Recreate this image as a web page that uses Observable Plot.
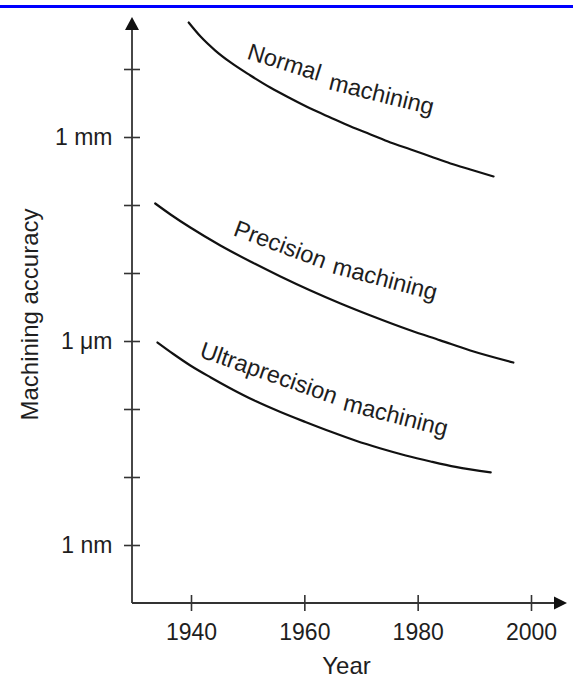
<!DOCTYPE html>
<html>
<head>
<meta charset="utf-8">
<script src="https://cdn.jsdelivr.net/npm/d3@7"></script>
<script src="https://cdn.jsdelivr.net/npm/@observablehq/plot@0.6"></script>
<style>
  html, body { margin: 0; padding: 0; background: #fff; }
  #wrap { position: relative; width: 573px; height: 686px; overflow: hidden; }
  #topRule { position: absolute; left: 0; top: 5px; width: 573px; height: 3px; background: #0000ff; }
  #chart { position: absolute; left: 0; top: 0; }
</style>
</head>
<body>
<div id="wrap"><div id="chart"></div><div id="topRule"></div></div>
<script>
// ---- Data (accuracy in micrometres) ----
const normalYears = [1939.5, 1941.6, 1944.2, 1946.9, 1950.4, 1953.9, 1957.5, 1961.0, 1964.5, 1968.1, 1971.6, 1975.1, 1978.7, 1982.2, 1985.7, 1989.2, 1993.3];
const normalAccuracy = [49100, 30500, 19000, 12700, 8170, 5430, 3750, 2670, 1970, 1450, 1110, 843, 667, 526, 415, 338, 267];

const precisionYears = [1933.6, 1936.3, 1939.8, 1945.1, 1950.4, 1955.7, 1961.0, 1966.3, 1971.6, 1978.7, 1983.9, 1989.2, 1996.8];
const precisionAccuracy = [107, 73.8, 47.4, 25.8, 15.0, 9.04, 5.62, 3.62, 2.41, 1.45, 1.04, 0.738, 0.491];

const ultraYears = [1934.0, 1936.8, 1939.8, 1943.4, 1946.9, 1951.3, 1955.7, 1960.1, 1964.5, 1968.9, 1973.4, 1977.8, 1982.2, 1986.6, 1992.8];
const ultraAccuracy = [0.966, 0.655, 0.444, 0.296, 0.204, 0.133, 0.0918, 0.0655, 0.0474, 0.0350, 0.0267, 0.0211, 0.0172, 0.0143, 0.0119];

const labelTexts = ["Normal", "machining", "Precision", "machining", "Ultraprecision", "machining"];
const labelYears = [1956.0, 1973.2, 1955.2, 1973.8, 1953.2, 1975.7];
const labelAccuracy = [9900, 3330, 20.8, 6.4, 0.267, 0.063];
const labelAngles = [17.5, 14, 20.4, 14.8, 19.3, 14.4];

const xTicks = [1940, 1960, 1980, 2000];
const yTicks = [0.001, 0.01, 0.1, 1, 10, 100, 1000, 10000];
const yLabelTicks = [0.001, 1, 1000];
const yLabelTexts = ["1 nm", "1 \u03bcm", "1 mm"];
const xTitle = "Year";
const yTitle = "Machining accuracy";

// ---- Build tables ----
const series = [
  {name: "Normal machining", years: normalYears, acc: normalAccuracy},
  {name: "Precision machining", years: precisionYears, acc: precisionAccuracy},
  {name: "Ultraprecision machining", years: ultraYears, acc: ultraAccuracy}
];
const lineData = series.flatMap(s => s.years.map((y, i) => ({series: s.name, year: y, acc: s.acc[i]})));
const labelData = labelTexts.map((t, i) => ({text: t, year: labelYears[i], acc: labelAccuracy[i], angle: labelAngles[i]}));
const yLabelMap = new Map(yLabelTicks.map((v, i) => [v, yLabelTexts[i]]));

// ---- Layout ----
const W = 573, H = 686;
const ML = 132, MR = 6, MT = 17, MB = 83;
const FONT = "'Liberation Sans', Arial, Helvetica, sans-serif";
const INK = "#1e1e1e";

const plot = Plot.plot({
  width: W,
  height: H,
  marginLeft: ML,
  marginRight: MR,
  marginTop: MT,
  marginBottom: MB,
  style: {background: "transparent", fontFamily: FONT, color: INK, overflow: "visible"},
  x: {domain: [1940, 2000], range: [191, 531]},
  y: {type: "log", domain: [0.001, 1000], range: [545, 137]},
  marks: [
    Plot.axisX({ticks: xTicks, tickSize: 16, dy: -8, tickFormat: () => "", label: null, strokeWidth: 1.6, stroke: "#333"}),
    Plot.axisX({ticks: xTicks, tickSize: 0, tickPadding: 20, fontSize: 23, label: null, tickFormat: d => String(d)}),
    Plot.axisY({ticks: yTicks, tickSize: 16, dx: 8, tickFormat: () => "", label: null, strokeWidth: 1.6, stroke: "#333"}),
    Plot.axisY({ticks: yLabelTicks, tickSize: 0, tickPadding: 20, fontSize: 23, label: null, tickFormat: d => yLabelMap.get(d)}),
    Plot.line(lineData, {x: "year", y: "acc", z: "series", curve: "monotone-x", stroke: "#111", strokeWidth: 2.2}),
    Plot.text(labelData, {x: "year", y: "acc", text: "text", rotate: "angle", lineAnchor: "bottom", textAnchor: "middle", fontSize: 23.5, fill: INK}),
    Plot.text([xTitle], {frameAnchor: "bottom", text: d => d, textAnchor: "middle", lineAnchor: "bottom", dx: -3.5, dy: 70, fontSize: 24, fill: INK}),
    Plot.text([yTitle], {frameAnchor: "left", text: d => d, rotate: -90, textAnchor: "middle", lineAnchor: "bottom", dx: -95, dy: 4, fontSize: 24, fill: INK})
  ]
});

// ---- Axis lines with arrowheads (drawn along the frame edges) ----
const svg = d3.select(plot);
const axisG = svg.append("g").attr("stroke", "#333").attr("fill", "#111");
const x0 = ML, yb = H - MB, yt = MT, xr = W - MR;
axisG.append("line").attr("x1", x0).attr("x2", x0).attr("y1", yb).attr("y2", yt + 8).attr("stroke-width", 1.8);
axisG.append("line").attr("x1", x0).attr("x2", xr - 8).attr("y1", yb).attr("y2", yb).attr("stroke-width", 1.8);
axisG.append("polygon").attr("stroke", "none").attr("points", `${x0},${yt} ${x0 - 7},${yt + 13} ${x0 + 7},${yt + 13}`);
axisG.append("polygon").attr("stroke", "none").attr("points", `${xr},${yb} ${xr - 13},${yb - 6.5} ${xr - 13},${yb + 6.5}`);

document.getElementById("chart").appendChild(plot);
</script>
</body>
</html>
